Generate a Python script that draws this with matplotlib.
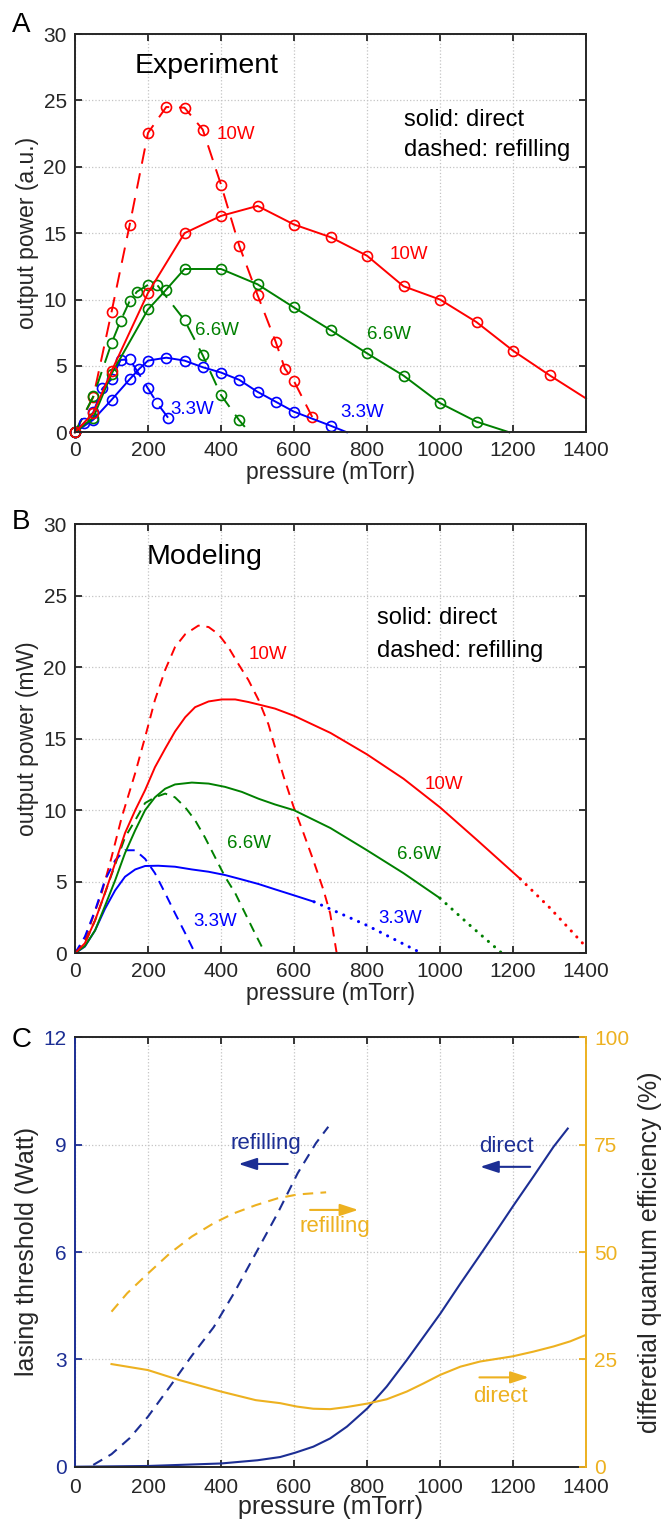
import matplotlib
matplotlib.use("Agg")
import matplotlib.pyplot as plt

plt.rcParams['font.family'] = ['Liberation Sans', 'DejaVu Sans']

# ---------------- DATA ----------------
# Panel A (experiment): pressure (mTorr) and output power (a.u.)
# last point of the "direct" series is the line extension (no marker)
a_red_dir_p = [0, 50, 100, 200, 300, 400, 500, 600, 700, 800, 900, 1000, 1100, 1200, 1300, 1400]
a_red_dir_v = [0, 1.45, 4.6, 10.5, 15.0, 16.3, 17.05, 15.65, 14.7, 13.3, 11.0, 10.0, 8.3, 6.15, 4.3, 2.55]
a_red_ref_p = [0, 50, 100, 150, 200, 250, 300, 350, 400, 450, 500, 550, 575, 600, 650]
a_red_ref_v = [0, 2.65, 9.05, 15.65, 22.55, 24.5, 24.45, 22.8, 18.65, 14.05, 10.35, 6.8, 4.8, 3.85, 1.15]
a_grn_dir_p = [0, 50, 100, 200, 250, 300, 400, 500, 600, 700, 800, 900, 1000, 1100, 1190]
a_grn_dir_v = [0, 1.1, 4.4, 9.25, 10.75, 12.3, 12.3, 11.15, 9.4, 7.7, 5.95, 4.27, 2.2, 0.8, 0]
a_grn_ref_p = [0, 50, 100, 125, 150, 170, 200, 225, 300, 350, 400, 450, 478]
a_grn_ref_v = [0, 2.7, 6.7, 8.4, 9.9, 10.6, 11.1, 11.1, 8.45, 5.8, 2.8, 0.9, 0]
a_blu_dir_p = [0, 50, 100, 150, 175, 200, 250, 300, 350, 400, 450, 500, 550, 600, 700, 745]
a_blu_dir_v = [0, 0.95, 2.44, 4.0, 4.75, 5.4, 5.62, 5.4, 4.9, 4.5, 3.95, 3.05, 2.3, 1.55, 0.5, 0]
a_blu_ref_p = [0, 25, 50, 75, 100, 125, 150, 200, 225, 255]
a_blu_ref_v = [0, 0.7, 1.5, 3.3, 4.0, 5.45, 5.5, 3.3, 2.2, 1.1]

# Panel B (modeling): output power (mW)
b_red_dir_p = [0, 27, 55, 82, 110, 137, 165, 192, 219, 247, 274, 302, 329, 366, 402, 439, 475, 512, 548,
               600, 700, 800, 900, 1000, 1100, 1220]
b_red_dir_v = [0, 0.7, 2.3, 4.2, 6.3, 8.4, 10.0, 11.4, 13.0, 14.3, 15.5, 16.5, 17.2, 17.6, 17.74, 17.74, 17.56,
               17.33, 17.1, 16.6, 15.4, 13.9, 12.2, 10.2, 7.95, 5.2]
b_red_dot_p = [1220, 1300, 1400]
b_red_dot_v = [5.2, 3.2, 0.45]
b_red_ref_p = [0, 27, 73, 100, 128, 165, 192, 219, 247, 274, 302, 338, 366, 393, 420, 448, 475, 503, 530, 548,
               571, 598, 626, 653, 681, 699, 717]
b_red_ref_v = [0, 0.93, 4.2, 6.7, 9.5, 12.6, 15.1, 17.7, 19.8, 21.4, 22.3, 22.9, 22.8, 22.3, 21.4, 20.2, 19.1,
               17.7, 16.0, 14.4, 12.4, 10.3, 8.4, 6.5, 4.4, 2.8, 0]
b_grn_dir_p = [0, 27, 55, 82, 110, 137, 165, 192, 219, 247, 274, 320, 366, 411, 457, 503, 548, 600, 700, 800,
               900, 1000]
b_grn_dir_v = [0, 0.5, 1.6, 3.3, 5.1, 7.0, 8.6, 10.0, 10.9, 11.5, 11.8, 11.93, 11.86, 11.63, 11.28, 10.8, 10.4,
               10.0, 8.75, 7.2, 5.6, 3.85]
b_grn_dot_p = [1000, 1080, 1170]
b_grn_dot_v = [3.85, 2.0, 0]
b_grn_ref_p = [0, 27, 55, 82, 110, 137, 165, 192, 219, 247, 274, 302, 329, 356, 384, 411, 439, 466, 493, 521]
b_grn_ref_v = [0, 0.7, 2.3, 4.2, 6.2, 8.1, 9.3, 10.5, 10.9, 11.16, 10.9, 10.2, 9.3, 8.1, 6.7, 5.35, 4.2, 2.8,
               1.4, 0]
b_blu_dir_p = [0, 27, 55, 82, 110, 137, 165, 192, 228, 274, 320, 366, 411, 457, 503, 548, 600, 655]
b_blu_dir_v = [0, 0.47, 1.6, 3.1, 4.4, 5.35, 5.86, 6.1, 6.12, 6.05, 5.86, 5.7, 5.47, 5.16, 4.84, 4.47, 4.05, 3.6]
b_blu_dot_p = [655, 800, 950]
b_blu_dot_v = [3.6, 1.95, 0]
b_blu_ref_p = [0, 27, 55, 82, 110, 137, 165, 192, 219, 247, 274, 302, 329]
b_blu_ref_v = [0, 1.16, 3.0, 5.1, 6.5, 7.2, 7.2, 6.6, 5.6, 4.2, 2.8, 1.4, 0]

# Panel C: lasing threshold (W) and differential quantum efficiency (%)
c_th_dir_p = [0, 200, 400, 500, 562, 603, 653, 699, 745, 801, 854, 909, 955, 1001, 1056, 1110, 1156, 1202,
              1256, 1311, 1350]
c_th_dir_v = [0, 0.02, 0.09, 0.18, 0.27, 0.39, 0.56, 0.79, 1.12, 1.63, 2.24, 2.98, 3.63, 4.28, 5.12, 5.92,
              6.61, 7.31, 8.11, 8.94, 9.45]
c_th_ref_p = [50, 100, 150, 200, 260, 320, 380, 435, 495, 555, 610, 660, 694]
c_th_ref_v = [0.05, 0.35, 0.8, 1.4, 2.24, 3.1, 3.9, 4.84, 5.96, 7.08, 8.2, 9.04, 9.5]
c_eff_ref_p = [100, 143, 200, 260, 320, 380, 435, 495, 555, 610, 688]
c_eff_ref_v = [36.1, 40.4, 45.0, 49.7, 53.6, 56.7, 59.0, 60.9, 62.5, 63.4, 63.9]
c_eff_dir_p = [100, 200, 285, 400, 495, 562, 608, 653, 699, 745, 801, 854, 909, 955, 1001, 1056, 1110, 1199,
               1256, 1311, 1357, 1400]
c_eff_dir_v = [23.9, 22.5, 20.2, 17.5, 15.5, 14.8, 14.0, 13.5, 13.4, 13.9, 14.7, 15.7, 17.5, 19.4, 21.4, 23.3,
               24.5, 25.7, 26.8, 28.0, 29.2, 30.7]

x_ticks = [0, 200, 400, 600, 800, 1000, 1200, 1400]
ab_yticks = [0, 5, 10, 15, 20, 25, 30]
c_left_ticks = [0, 3, 6, 9, 12]
c_right_ticks = [0, 25, 50, 75, 100]

# ---------------- STYLE ----------------
RED, GRN, BLU = '#ff0000', '#008000', '#0000ff'
NAVY, ORNG = '#1c2e94', '#EDB120'
DARK = '#262626'
W, H = 668, 1520

fig = plt.figure(figsize=(W / 100, H / 100), dpi=100)


def axrect(l, r, t, b):
    return [l / W, 1 - b / H, (r - l) / W, (b - t) / H]


def style(ax, ylim, yticks):
    ax.set_xlim(0, 1400)
    ax.set_ylim(*ylim)
    ax.set_xticks(x_ticks)
    ax.set_yticks(yticks)
    ax.grid(True, linestyle=':', color='#c4c4c4', lw=0.9)
    ax.set_axisbelow(True)
    ax.tick_params(direction='in', length=5, width=1.3, top=True, right=True,
                   labelsize=15, colors=DARK, pad=6)
    for s in ax.spines.values():
        s.set_linewidth(1.4)
        s.set_color(DARK)
    ax.set_xlabel('pressure (mTorr)', fontsize=16.5, color=DARK, labelpad=1)


axA = fig.add_axes(axrect(75, 586, 34, 432.3))
axB = fig.add_axes(axrect(75, 586, 524, 953.3))
axC = fig.add_axes(axrect(75, 586, 1037.3, 1466.7))

# ---- Panel A ----
style(axA, (0, 30), ab_yticks)
axA.set_ylabel('output power (a.u.)', fontsize=16.5, color=DARK, labelpad=3)
mk = dict(marker='o', ms=7.2, mfc='none', mew=1.2, lw=1.4, clip_on=False)
adash = (8, 5)
axA.plot(a_red_ref_p, a_red_ref_v, color=RED, dashes=adash, **mk)
axA.plot(a_grn_ref_p, a_grn_ref_v, color=GRN, dashes=adash,
         markevery=list(range(len(a_grn_ref_p) - 1)), **mk)
axA.plot(a_blu_ref_p, a_blu_ref_v, color=BLU, dashes=adash, **mk)
axA.plot(a_blu_dir_p, a_blu_dir_v, color=BLU,
         markevery=list(range(len(a_blu_dir_p) - 1)), **mk)
axA.plot(a_grn_dir_p, a_grn_dir_v, color=GRN,
         markevery=list(range(len(a_grn_dir_p) - 1)), **mk)
axA.plot(a_red_dir_p, a_red_dir_v, color=RED,
         markevery=list(range(len(a_red_dir_p) - 1)), **mk)
axA.text(162, 27.6, 'Experiment', fontsize=20.5, color='black', va='center', ha='left')
axA.text(902, 23.5, 'solid: direct', fontsize=17, color='black', va='center', ha='left')
axA.text(902, 21.3, 'dashed: refilling', fontsize=17, color='black', va='center', ha='left')
lab = dict(fontsize=13.5, va='center', ha='left')
axA.text(388, 22.4, '10W', color=RED, **lab)
axA.text(862, 13.4, '10W', color=RED, **lab)
axA.text(329, 7.66, '6.6W', color=GRN, **lab)
axA.text(800, 7.38, '6.6W', color=GRN, **lab)
axA.text(260, 1.68, '3.3W', color=BLU, **lab)
axA.text(726, 1.5, '3.3W', color=BLU, **lab)

# ---- Panel B ----
style(axB, (0, 30), ab_yticks)
axB.set_ylabel('output power (mW)', fontsize=16.5, color=DARK, labelpad=3)
dsh = (5, 3.5)
dot = dict(lw=2.2, dashes=(0.05, 2.6), dash_capstyle='round')
axB.plot(b_red_ref_p, b_red_ref_v, color=RED, lw=1.4, dashes=dsh)
axB.plot(b_grn_ref_p, b_grn_ref_v, color=GRN, lw=1.4, dashes=dsh)
axB.plot(b_blu_ref_p, b_blu_ref_v, color=BLU, lw=1.4, dashes=dsh)
axB.plot(b_blu_dir_p, b_blu_dir_v, color=BLU, lw=1.4)
axB.plot(b_grn_dir_p, b_grn_dir_v, color=GRN, lw=1.4)
axB.plot(b_red_dir_p, b_red_dir_v, color=RED, lw=1.4)
axB.plot(b_blu_dot_p, b_blu_dot_v, color=BLU, **dot)
axB.plot(b_grn_dot_p, b_grn_dot_v, color=GRN, **dot)
axB.plot(b_red_dot_p, b_red_dot_v, color=RED, clip_on=False, **dot)
axB.text(197, 27.7, 'Modeling', fontsize=20.5, color='black', va='center', ha='left')
axB.text(827, 23.4, 'solid: direct', fontsize=17, color='black', va='center', ha='left')
axB.text(827, 21.1, 'dashed: refilling', fontsize=17, color='black', va='center', ha='left')
axB.text(475, 20.9, '10W', color=RED, **lab)
axB.text(959, 11.8, '10W', color=RED, **lab)
axB.text(416, 7.7, '6.6W', color=GRN, **lab)
axB.text(883, 6.9, '6.6W', color=GRN, **lab)
axB.text(324, 2.2, '3.3W', color=BLU, **lab)
axB.text(831, 2.4, '3.3W', color=BLU, **lab)

# ---- Panel C ----
style(axC, (0, 12), c_left_ticks)
axC.tick_params(axis='y', colors=NAVY, right=False)
axC.tick_params(axis='x', top=True, pad=8)
axC.spines['left'].set_color(NAVY)
axC.spines['right'].set_visible(False)
axC.set_xlabel('pressure (mTorr)', fontsize=18, color=DARK, labelpad=-1)
axC.set_ylabel('lasing threshold (Watt)', fontsize=18, color=DARK, labelpad=3)

axC2 = axC.twinx()
axC2.set_ylim(0, 100)
axC2.set_yticks(c_right_ticks)
axC2.tick_params(axis='y', direction='in', length=5, width=1.3, colors=ORNG,
                 labelsize=15, pad=6)
for k in ('left', 'top', 'bottom'):
    axC2.spines[k].set_visible(False)
axC2.spines['right'].set_color(ORNG)
axC2.spines['right'].set_linewidth(1.4)
axC2.set_ylabel('differetial quantum efficiency (%)', fontsize=18, color=DARK,
                rotation=90, labelpad=6)

axC.plot(c_th_dir_p, c_th_dir_v, color=NAVY, lw=1.5, clip_on=False)
axC.plot(c_th_ref_p, c_th_ref_v, color=NAVY, lw=1.5, dashes=dsh)
axC2.plot(c_eff_dir_p, c_eff_dir_v, color=ORNG, lw=1.5)
axC2.plot(c_eff_ref_p, c_eff_ref_v, color=ORNG, lw=1.5, dashes=dsh)

clab = dict(fontsize=16, va='center', ha='center')
axC.text(522, 9.04, 'refilling', color=NAVY, **clab)
axC.text(1183, 8.95, 'direct', color=NAVY, **clab)
axC2.text(713, 56.0, 'refilling', color=ORNG, **clab)
axC2.text(1165, 16.3, 'direct', color=ORNG, **clab)

arr = dict(arrowstyle='-|>,head_length=0.55,head_width=0.18', lw=1.5,
           mutation_scale=20, shrinkA=0, shrinkB=0)
axC.annotate('', xy=(448, 8.46), xytext=(583, 8.46), arrowprops=dict(color=NAVY, **arr))
axC.annotate('', xy=(1110, 8.38), xytext=(1247, 8.38), arrowprops=dict(color=NAVY, **arr))
axC2.annotate('', xy=(776, 59.8), xytext=(644, 59.8), arrowprops=dict(color=ORNG, **arr))
axC2.annotate('', xy=(1243, 20.8), xytext=(1108, 20.8), arrowprops=dict(color=ORNG, **arr))

# panel letters
fig.text(12 / W, 1 - 25 / H, 'A', fontsize=20, va='center', ha='left')
fig.text(12 / W, 1 - 522 / H, 'B', fontsize=20, va='center', ha='left')
fig.text(12 / W, 1 - 1040 / H, 'C', fontsize=20, va='center', ha='left')

fig.savefig('out.png', dpi=100)
